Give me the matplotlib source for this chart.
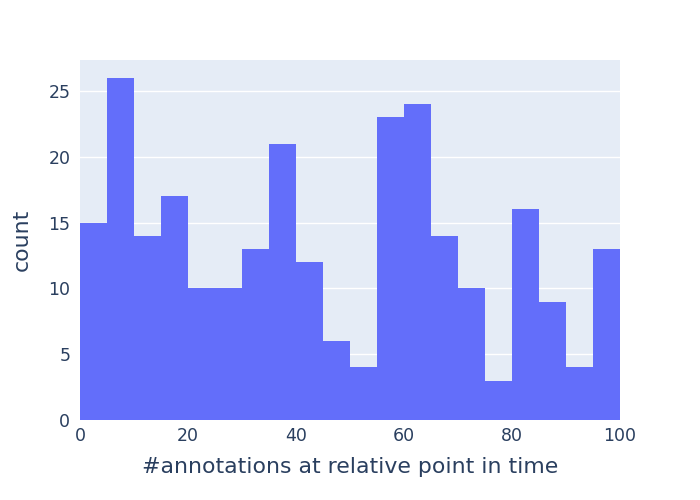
import numpy as np
import matplotlib
matplotlib.use("Agg")
from matplotlib import pyplot as plt

# histogram bins (left edges) and counts
bin_left = [0, 5, 10, 15, 20, 25, 30, 35, 40, 45, 50, 55, 60, 65, 70, 75, 80, 85, 90, 95]
counts = [15, 26, 14, 17, 10, 10, 13, 21, 12, 6, 4, 23, 24, 14, 10, 3, 16, 9, 4, 13]
bin_width = 5

x_ticks = [0, 20, 40, 60, 80, 100]
y_ticks = [0, 5, 10, 15, 20, 25]

FONT_COLOR = "#2a3f5f"
plt.rcParams["font.family"] = ["DejaVu Sans"]

fig = plt.figure(figsize=(7, 5), dpi=100)
ax = fig.add_axes([80 / 700, 80 / 500, 540 / 700, 360 / 500])
ax.set_facecolor("#e5ecf6")

ax.bar(bin_left, counts, width=bin_width, align="edge", color="#636efa",
       linewidth=0, zorder=2)

ax.set_xlim(0, 100)
ax.set_ylim(0, 27.36)
ax.set_xticks(x_ticks)
ax.set_yticks(y_ticks)
ax.grid(axis="y", color="white", linewidth=1, zorder=1)
ax.set_axisbelow(True)
for s in ax.spines.values():
    s.set_visible(False)
ax.tick_params(length=0, labelsize=12.5, labelcolor=FONT_COLOR)
ax.tick_params(axis="x", pad=5)
ax.tick_params(axis="y", pad=7)

ax.set_xlabel("#annotations at relative point in time", fontsize=15.8,
              color=FONT_COLOR, labelpad=9)
ax.set_ylabel("count", fontsize=15.8, color=FONT_COLOR, labelpad=12)

fig.savefig("out.png", dpi=100)
